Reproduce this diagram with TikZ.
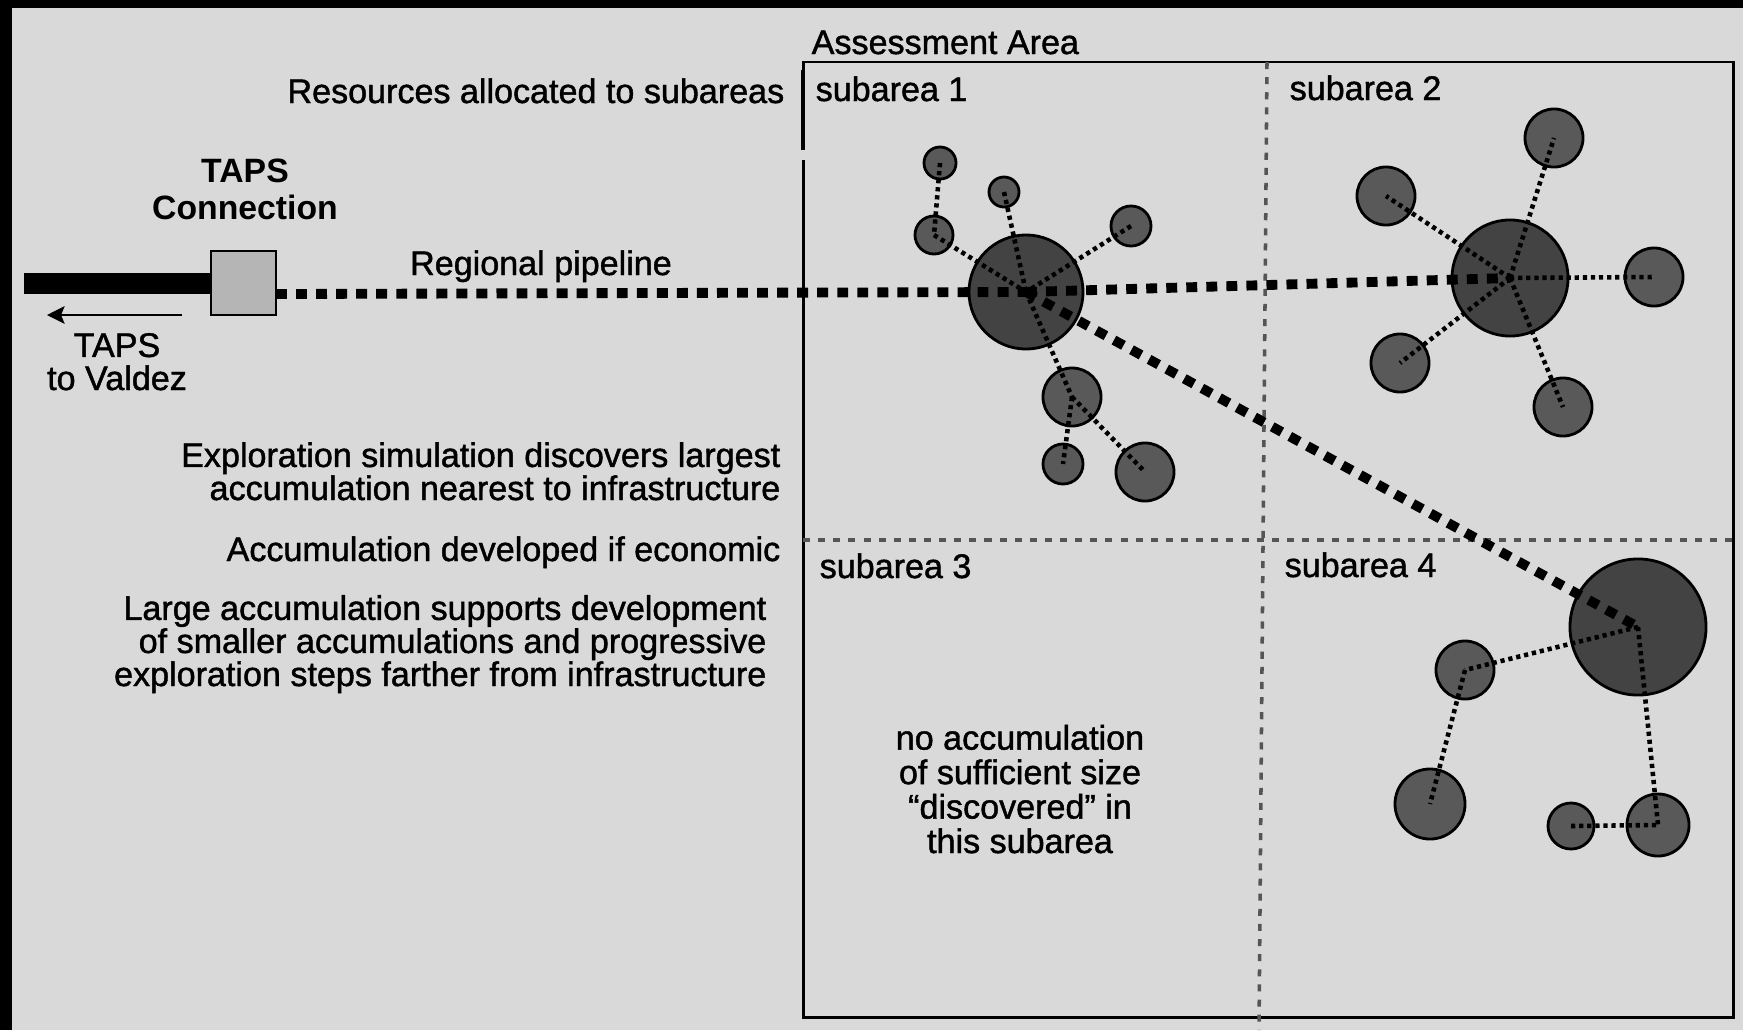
\documentclass[tikz,border=0pt]{standalone}
\usepackage{fontspec}
\setmainfont{Liberation Sans}
\newfontfamily\scanfont{Liberation Sans}[FakeBold=1.3]
\usetikzlibrary{arrows.meta}

\definecolor{paper}{HTML}{D9D9D9}
\definecolor{darkfield}{HTML}{434343}
\definecolor{smallfield}{HTML}{595959}
\definecolor{tapsgrey}{HTML}{B5B5B5}
\definecolor{divider}{HTML}{555555}

\begin{document}
\begin{tikzpicture}[x=0.01cm,y=-0.01cm,
  txt/.style={inner sep=0pt,font=\scanfont\fontsize{9.7}{9.4}\selectfont},
  field/.style={circle,draw=black,line width=0.8pt,fill=smallfield,inner sep=0pt,minimum size=#1*0.02cm},
  bigfield/.style={field=#1,fill=darkfield},
  pipe/.style={line width=2.8pt,dash pattern=on 3.1pt off 2.6pt},
  link/.style={line width=1.3pt,dash pattern=on 1.2pt off 1.1pt},
  divide/.style={color=divider,line width=1pt,dash pattern=on 2pt off 2.3pt}]
\useasboundingbox (0,0) rectangle (1743,1030);
\fill[black] (0,0) rectangle (1743,1030);
\fill[paper] (12,8) rectangle (1743,1030);

% assessment area and subareas
\draw[line width=0.85pt] (803,160) -- (803,1017) -- (1733,1017) -- (1733,62) -- (803,62) -- (803,150);
\draw[line width=1.3pt] (803,70) -- (803,150);
\draw[divide] (1267,62) -- (1259,1030);
\draw[divide] (803,540) -- (1733,540);

% TAPS connection
\fill[black] (24,273) rectangle (212,294);
\node[draw=black,line width=0.8pt,fill=tapsgrey,minimum width=0.65cm,minimum height=0.64cm,inner sep=0pt] (conn) at (243.5,283) {};
\coordinate (pipestart) at (276,294);
\coordinate (valdezend) at (47,315);
\coordinate (valdezstart) at (182,315);
\draw[-{Stealth[length=5pt,width=5pt,inset=1pt]},line width=0.6pt] (valdezstart) -- (valdezend);

% accumulations, subarea 1
\node[bigfield=57] (big1) at (1026,292) {};
\node[field=16] (s1a) at (940,163) {};
\node[field=15] (s1b) at (1004,192) {};
\node[field=19] (s1c) at (934,235) {};
\node[field=20] (s1d) at (1131,226) {};
\node[field=29] (s1e) at (1072,397) {};
\node[field=20] (s1f) at (1063,464) {};
\node[field=29] (s1g) at (1145,472) {};
% subarea 2
\node[bigfield=58] (big2) at (1510,278) {};
\node[field=29] (s2a) at (1554,138) {};
\node[field=29] (s2b) at (1386,196) {};
\node[field=29] (s2c) at (1654,277) {};
\node[field=29] (s2d) at (1400,363) {};
\node[field=29] (s2e) at (1563,407) {};
% subarea 4
\node[bigfield=68] (big4) at (1638,627) {};
\node[field=29] (s4a) at (1465,670) {};
\node[field=35] (s4b) at (1430,804) {};
\node[field=23] (s4c) at (1571,826) {};
\node[field=31] (s4d) at (1658,825) {};

% regional pipeline
\draw[pipe] (pipestart) -- (big1.center);
\draw[pipe] (big1.center) -- (big2.center);
\draw[pipe] (big1.center) -- (big4.center);

% local links
\draw[link] (s1a.center) -- (s1c.center);
\draw[link] (s1c.center) -- (big1.center);
\draw[link] (s1b.center) -- (big1.center);
\draw[link] (s1d.center) -- (big1.center);
\draw[link] (big1.center) -- (s1e.center);
\draw[link] (s1e.center) -- (s1f.center);
\draw[link] (s1e.center) -- (s1g.center);
\foreach \s in {s2a,s2b,s2c,s2d,s2e}
  \draw[link] (big2.center) -- (\s.center);
\draw[link] (big4.center) -- (s4a.center);
\draw[link] (s4a.center) -- (s4b.center);
\draw[link] (big4.center) -- (s4d.center);
\draw[link] (s4c.center) -- (s4d.center);

% labels (multi-line nodes sit on their last baseline)
\node[txt,anchor=base west] (areatitle) at (811,54) {Assessment Area};
\node[txt,anchor=base east] (alloc) at (785,103) {Resources allocated to subareas};
\node[txt,anchor=base west] (sub1) at (815,101) {subarea 1};
\node[txt,anchor=base west] (sub2) at (1289,100) {subarea 2};
\node[txt,anchor=base west] (sub3) at (819,578) {subarea 3};
\node[txt,anchor=base west] (sub4) at (1284,577) {subarea 4};
\node[txt,font=\fontsize{9.6}{10.5}\selectfont\bfseries,align=center,anchor=base] (tapsconn) at (245,219) {TAPS\\Connection};
\node[txt,anchor=base] (pipelabel) at (541,275) {Regional pipeline};
\node[txt,align=center,anchor=base] (valdez) at (117,390) {TAPS\\to Valdez};
\node[txt,align=right,anchor=base east] (explore) at (781,500) {Exploration simulation discovers largest\\accumulation nearest to infrastructure};
\node[txt,anchor=base east] (develop) at (781,561) {Accumulation developed if economic};
\node[txt,align=right,anchor=base east] (support) at (767,686) {Large accumulation supports development\\of smaller accumulations and progressive\\exploration steps farther from infrastructure};
\node[txt,font=\scanfont\fontsize{9.7}{9.8}\selectfont,align=center,anchor=base] (nofield) at (1020,853) {no accumulation\\of sufficient size\\“discovered” in\\this subarea};
\end{tikzpicture}
\end{document}
